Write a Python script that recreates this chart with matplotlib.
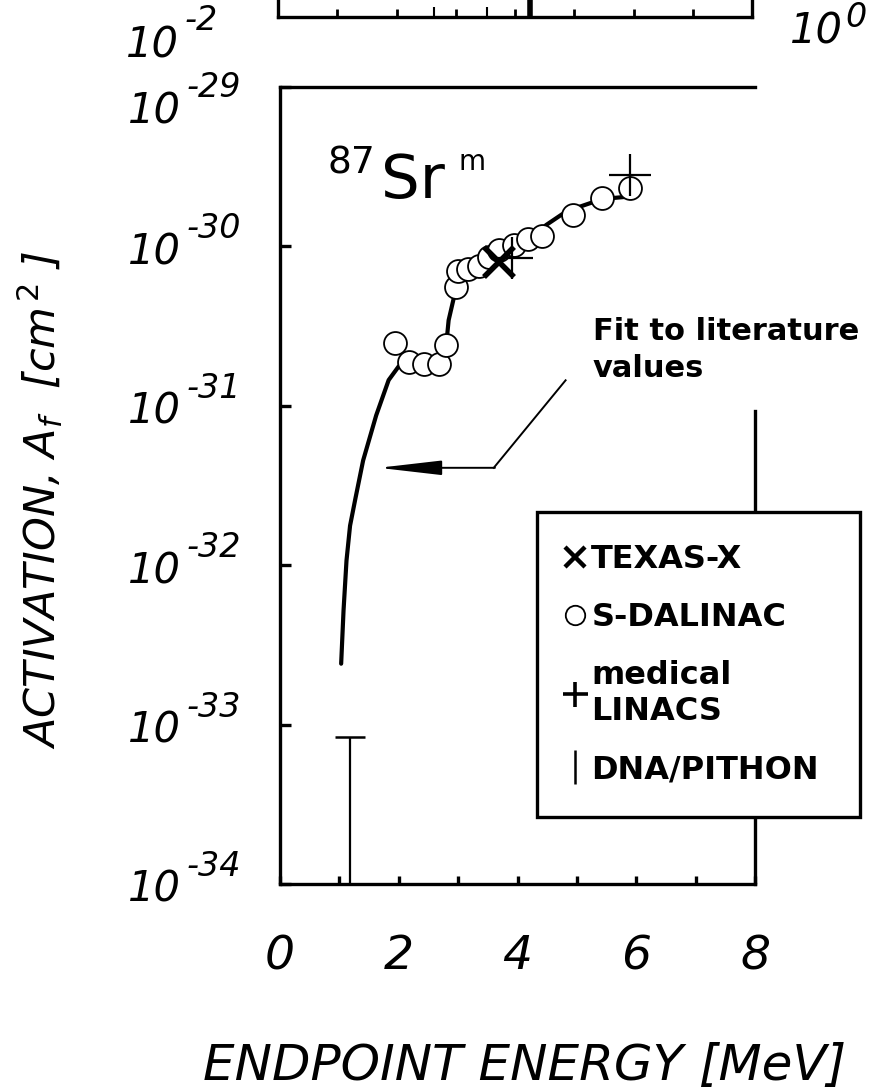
import matplotlib
matplotlib.use("Agg")
import matplotlib.pyplot as plt
import matplotlib.transforms as mtransforms
from matplotlib.lines import Line2D
from matplotlib.ticker import NullLocator, FixedLocator

# ---------------- data ----------------
sdalinac_E = [1.94, 2.18, 2.43, 2.67, 2.80, 2.96, 2.99, 3.17, 3.35, 3.52,
              3.69, 3.94, 4.17, 4.42, 4.93, 5.42, 5.89]
sdalinac_A = [2.48e-31, 1.87e-31, 1.84e-31, 1.84e-31, 2.42e-31, 5.57e-31,
              6.98e-31, 7.19e-31, 7.52e-31, 8.59e-31, 9.46e-31, 1.02e-30,
              1.12e-30, 1.17e-30, 1.57e-30, 2.01e-30, 2.31e-30]
texas_E = [3.69]
texas_A = [8.0e-31]
linac_E = [3.91, 5.89]
linac_A = [8.4e-31, 2.80e-30]
dna_E = [1.18]
dna_A_upper = [8.4e-34]
fit_E = [1.03, 1.07, 1.12, 1.18, 1.27, 1.40, 1.62, 1.83, 2.00, 2.17, 2.67,
         2.80, 2.84, 2.93, 2.99, 3.35, 3.69, 3.94, 4.28, 4.48, 4.75, 5.04,
         5.30, 5.60, 5.85]
fit_A = [2.41e-33, 5.19e-33, 1.07e-32, 1.77e-32, 2.62e-32, 4.54e-32,
         8.71e-32, 1.45e-31, 1.77e-31, 1.87e-31, 1.85e-31, 2.42e-31,
         3.44e-31, 4.80e-31, 6.89e-31, 7.73e-31, 8.93e-31, 9.89e-31,
         1.13e-30, 1.36e-30, 1.59e-30, 1.77e-30, 1.91e-30, 2.01e-30, 2.05e-30]
x_ticks = [0, 2, 4, 6, 8]
x_minor = [1, 3, 5, 7]
x_ticklabels = ["0", "2", "4", "6", "8"]
y_decades = [-29, -30, -31, -32, -33, -34]
top_panel_marks = [2.64, 3.52]
top_panel_thick = [4.25]
legend_labels = ["TEXAS-X", "S-DALINAC", "medical\nLINACS", "DNA/PITHON"]

# ---------------- figure ----------------
W, H = 872, 1092
fig = plt.figure(figsize=(W / 100, H / 100), dpi=100)
fig.patch.set_facecolor("white")


def fx(px):
    return px / W


def fy(py):
    return 1 - py / H


L, R, T, B = 280, 755, 87, 884
ax = fig.add_axes([fx(L), fy(B), fx(R) - fx(L), fy(T) - fy(B)])
ax.set_yscale("log")
ax.set_xlim(0, 8)
ax.set_ylim(1e-34, 1e-29)

SPW = 2.4
for s in ax.spines.values():
    s.set_linewidth(SPW)
ax.spines["right"].set_bounds(1e-34, 10 ** -31.03)

# fit curve
ax.plot(fit_E, fit_A, color="black", lw=3.0, zorder=2, solid_capstyle="round")
# S-DALINAC
ax.plot(sdalinac_E, sdalinac_A, ls="none", marker="o", ms=16.5,
        mfc="white", mec="black", mew=1.3, zorder=3)
# TEXAS-X
ax.plot(texas_E, texas_A, ls="none", marker="x", ms=22, mec="black",
        mew=4.0, zorder=4)
# medical LINACS
ax.plot(linac_E, linac_A, ls="none", marker="+", ms=30, mec="black",
        mew=1.6, zorder=5)
# DNA/PITHON upper limit
ax.errorbar(dna_E, dna_A_upper,
            yerr=[[dna_A_upper[0] - 1e-34], [0]],
            fmt="none", ecolor="black", elinewidth=1.6, capsize=11,
            capthick=1.8, zorder=3)

# ticks
ax.xaxis.set_major_locator(FixedLocator(x_ticks))
ax.xaxis.set_minor_locator(FixedLocator(x_minor))
ax.set_xticklabels(x_ticklabels)
ax.tick_params(axis="x", which="both", direction="in", length=6,
               width=2.4, pad=36, labelsize=34)
for lab in ax.get_xticklabels():
    lab.set_fontstyle("italic")
ax.yaxis.set_major_locator(FixedLocator([10.0 ** d for d in y_decades]))
ax.yaxis.set_minor_locator(NullLocator())
ax.tick_params(axis="y", which="both", direction="in", length=8,
               width=2.4, labelleft=False)

# y tick labels (10 with superscript exponent)
ytr = ax.get_yaxis_transform()
for d in y_decades:
    extra = 18 if d == y_decades[0] else 0
    t10 = mtransforms.offset_copy(ytr, fig=fig, x=0, y=-(18 + extra), units="dots")
    texp = mtransforms.offset_copy(ytr, fig=fig, x=0, y=(8 - extra), units="dots")
    ax.text((181 - L) / (R - L), 10.0 ** d, "10", transform=t10,
            ha="right", va="baseline", fontsize=30, fontstyle="italic",
            clip_on=False)
    ax.text((186 - L) / (R - L), 10.0 ** d, "-%d" % (-d), transform=texp,
            ha="left", va="baseline", fontsize=24, fontstyle="italic",
            clip_on=False)

# isotope label
ax.text(fx(327), fy(173), "87", transform=fig.transFigure, fontsize=27,
        ha="left", va="baseline")
ax.text(fx(381), fy(198), "Sr", transform=fig.transFigure, fontsize=44,
        ha="left", va="baseline")
ax.text(fx(458), fy(170), "m", transform=fig.transFigure, fontsize=20,
        ha="left", va="baseline")

# annotation
fig.text(fx(593), fy(340), "Fit to literature", fontsize=22,
         fontweight="bold", ha="left", va="baseline")
fig.text(fx(593), fy(377), "values", fontsize=22, fontweight="bold",
         ha="left", va="baseline")
ax.plot([3.60, 4.81], [10 ** -31.389, 10 ** -30.84], color="black",
        lw=1.4, zorder=2)
ax.annotate("", xy=(1.66, 10 ** -31.389), xytext=(3.62, 10 ** -31.389),
            arrowprops=dict(arrowstyle="-|>,head_length=3.9,head_width=0.45",
                            color="black", lw=1.4, shrinkA=0, shrinkB=0),
            zorder=2)

# legend
handles = [
    Line2D([], [], ls="none", marker="x", ms=14, mec="black", mew=3.2),
    Line2D([], [], ls="none", marker="o", ms=14, mfc="white", mec="black", mew=1.3),
    Line2D([], [], ls="none", marker="+", ms=18, mec="black", mew=2.6),
    Line2D([], [], ls="none", marker="|", ms=24, mec="black", mew=1.8),
]
leg = ax.legend(handles, legend_labels, loc="upper left",
                bbox_to_anchor=(fx(537), fy(813), fx(860) - fx(537), fy(512) - fy(813)),
                bbox_transform=fig.transFigure, mode="expand",
                prop=dict(family="DejaVu Sans", weight="bold", size=23),
                frameon=True, fancybox=False, framealpha=1, edgecolor="black",
                borderpad=1.0, handlelength=0.4, handletextpad=0.3,
                labelspacing=0.85, borderaxespad=0)
leg.get_frame().set_linewidth(2.4)
leg.set_zorder(10)

# axis labels
fig.text(fx(525), fy(1066), "ENDPOINT ENERGY [MeV]", fontsize=36,
         fontstyle="italic", ha="center", va="center")
fig.text(fx(40), fy(500), r"ACTIVATION, $A_f$  [cm$^{\,2}$ ]", fontsize=31,
         fontstyle="italic", rotation=90, ha="center", va="center")

# ---------------- partial upper panel ----------------
axt = fig.add_axes([fx(278), fy(17), fx(752) - fx(278), 60 / H])
axt.set_xlim(0, 8)
axt.set_ylim(0, 1)
for s in axt.spines.values():
    s.set_linewidth(SPW)
axt.xaxis.set_major_locator(FixedLocator(x_minor + [2, 4, 6]))
axt.tick_params(axis="x", direction="in", length=6, width=2.0,
                labelbottom=False)
axt.set_yticks([])
axt.vlines(top_panel_marks, 0, 0.17, color="black", lw=1.5)
axt.vlines(top_panel_thick, 0, 0.3, color="black", lw=4)

fig.text(fx(179), fy(57), "10", fontsize=30, fontstyle="italic",
         ha="right", va="baseline")
fig.text(fx(184), fy(30), "-2", fontsize=24, fontstyle="italic",
         ha="left", va="baseline")
fig.text(fx(843), fy(44), "10", fontsize=30, fontstyle="italic",
         ha="right", va="baseline")
fig.text(fx(845), fy(27), "0", fontsize=24, fontstyle="italic",
         ha="left", va="baseline")

fig.savefig("out.png", dpi=100)
